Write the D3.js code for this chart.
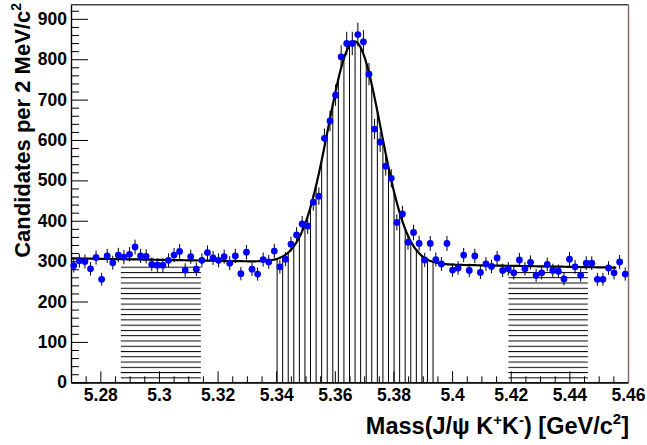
<!DOCTYPE html>
<html><head><meta charset="utf-8">
<script src="https://cdn.jsdelivr.net/npm/d3@7"></script>
<style>
body{margin:0;background:#fff}
svg{display:block}
text{font-family:"Liberation Sans",Arial,Helvetica,sans-serif;font-weight:bold;fill:#000}
</style>
</head><body>
<svg id="c" width="647" height="445"></svg>
<script>
// ---- data ----
const mass = [5.27095,5.27285,5.27475,5.27665,5.27855,5.28045,5.28235,5.28425,5.28615,5.28805,
5.28995,5.29185,5.29375,5.29565,5.29755,5.29945,5.30135,5.30325,5.30515,5.30705,
5.30895,5.31085,5.31275,5.31465,5.31655,5.31845,5.32035,5.32225,5.32415,5.32605,
5.32795,5.32985,5.33175,5.33365,5.33555,5.33745,5.33935,5.34125,5.34315,5.34505,
5.34695,5.34885,5.35075,5.35265,5.35455,5.35645,5.35835,5.36025,5.36215,5.36405,
5.36595,5.36785,5.36975,5.37165,5.37355,5.37545,5.37735,5.37925,5.38115,5.38305,
5.38495,5.38685,5.38875,5.39065,5.39255,5.39445,5.39635,5.39825,5.40015,5.40205,
5.40395,5.40585,5.40775,5.40965,5.41155,5.41345,5.41535,5.41725,5.41915,5.42105,
5.42295,5.42485,5.42675,5.42865,5.43055,5.43245,5.43435,5.43625,5.43815,5.44005,
5.44195,5.44385,5.44575,5.44765,5.44955,5.45145,5.45335,5.45525,5.45715,5.45905];
const counts = [289,301,299,281,309,255,313,296,315,310,
317,335,313,312,292,290,290,302,315,324,
278,311,280,302,321,308,302,311,295,313,
269,322,280,268,304,298,325,286,305,342,
365,392,387,446,461,604,647,711,806,839,
839,861,843,763,627,595,535,505,396,417,
347,371,344,303,344,304,293,344,278,283,
315,277,313,272,293,287,308,277,281,271,
303,281,297,265,271,292,277,275,256,305,
286,265,295,295,255,255,283,271,298,268];

const xTickValues = [5.28,5.30,5.32,5.34,5.36,5.38,5.40,5.42,5.44,5.46];
const xTickLabels = ["5.28","5.3","5.32","5.34","5.36","5.38","5.4","5.42","5.44","5.46"];
const yTickValues = [0,100,200,300,400,500,600,700,800,900];
const yTickLabels = ["0","100","200","300","400","500","600","700","800","900"];

const sidebandLeft = [5.287, 5.3143];
const sidebandRight = [5.4192, 5.4463];
const sidebandHeights = [288, 276];
const signalEdges = [5.3403,5.3422,5.3441,5.3460,5.3479,5.3498,5.3517,5.3536,5.3555,5.3574,
5.3593,5.3612,5.3631,5.3650,5.3669,5.3688,5.3707,5.3726,5.3745,5.3764,
5.3783,5.3802,5.3821,5.3840,5.3859,5.3878,5.3897,5.3916,5.3935];

// fit model parameters (linear background + Gaussian)
const fitRange = [5.27, 5.456];
const bg0 = 307, bgSlope = -124, gAmp = 549, gMean = 5.3667, gSigma = 0.0090;
function fitFn(m){ return bg0 + bgSlope*(m-5.27) + gAmp*Math.exp(-0.5*Math.pow((m-gMean)/gSigma,2)); }

// ---- drawing ----
const svg = d3.select("#c");
const L = 71, R = 628, T = 4.7, B = 382.3;
const x = d3.scaleLinear().domain([5.27,5.46]).range([L,R]);
const y = d3.scaleLinear().domain([0,935]).range([B,T]);

const defs = svg.append("defs");
const pat = defs.append("pattern").attr("id","hhatch")
  .attr("patternUnits","userSpaceOnUse")
  .attr("x",0).attr("y",266.7).attr("width",20).attr("height",5.27);
pat.append("rect").attr("x",0).attr("y",0).attr("width",20).attr("height",1).attr("fill","#000");

// sidebands
[sidebandLeft, sidebandRight].forEach((sb,i)=>{
  svg.append("rect")
    .attr("x",x(sb[0])).attr("width",x(sb[1])-x(sb[0]))
    .attr("y",y(sidebandHeights[i])).attr("height",y(0)-y(sidebandHeights[i]))
    .attr("fill","url(#hhatch)");
});

// signal region vertical lines
svg.append("g").selectAll("line").data(signalEdges).join("line")
  .attr("x1",d=>x(d)).attr("x2",d=>x(d))
  .attr("y1",y(0)).attr("y2",d=>y(fitFn(d)))
  .attr("stroke","#000").attr("stroke-width",1);

// axes
const yAxisMinor = d3.axisLeft(y).tickValues(d3.range(20,935,20).filter(v=>v%100!==0))
  .tickSize(-8).tickSizeOuter(0).tickFormat("");
const yAxis = d3.axisLeft(y).tickValues(yTickValues).tickSize(-17).tickSizeOuter(0).tickPadding(4)
  .tickFormat((d,i)=>yTickLabels[i]);
const xAxisMinor = d3.axisBottom(x).tickValues(d3.range(5.275,5.4601,0.005).filter(v=>Math.abs(Math.round(v*50)-v*50)>1e-6))
  .tickSize(-6).tickSizeOuter(0).tickFormat("");
const xAxis = d3.axisBottom(x).tickValues(xTickValues).tickSize(-11).tickSizeOuter(0).tickPadding(6)
  .tickFormat((d,i)=>xTickLabels[i]);

function styleAxis(g){
  g.select(".domain").attr("stroke","#000").attr("stroke-width",1.2);
  g.selectAll(".tick line").attr("stroke","#000").attr("stroke-width",1);
  g.selectAll(".tick text").style("font-size","17.5px").attr("fill","#000");
  g.attr("font-family",null).attr("font-size",null);
}
svg.append("g").attr("transform",`translate(${L},0)`).call(yAxisMinor).call(styleAxis);
svg.append("g").attr("transform",`translate(${L},0)`).call(yAxis).call(styleAxis);
svg.append("g").attr("transform",`translate(0,${B})`).call(xAxisMinor).call(styleAxis);
svg.append("g").attr("transform",`translate(0,${B})`).call(xAxis).call(styleAxis);

// frame top/right
svg.append("line").attr("x1",L).attr("x2",R+0.5).attr("y1",T).attr("y2",T)
  .attr("stroke","#444").attr("stroke-width",1.5);
svg.append("line").attr("x1",R+0.5).attr("x2",R+0.5).attr("y1",T).attr("y2",B)
  .attr("stroke","#8a6a6a").attr("stroke-width",1.5);

// fit curve
const curveX = d3.range(fitRange[0], fitRange[1]+1e-9, 0.0004);
svg.append("path").datum(curveX)
  .attr("d", d3.line().x(d=>x(d)).y(d=>y(fitFn(d))))
  .attr("fill","none").attr("stroke","#000").attr("stroke-width",2.2);

// data points
const pts = mass.map((m,i)=>({m, c:counts[i]}));
svg.append("g").selectAll("line").data(pts).join("line")
  .attr("x1",d=>x(d.m)).attr("x2",d=>x(d.m))
  .attr("y1",d=>y(d.c-Math.sqrt(d.c))).attr("y2",d=>y(d.c+Math.sqrt(d.c)))
  .attr("stroke","#000").attr("stroke-width",1);
svg.append("g").selectAll("circle").data(pts).join("circle")
  .attr("cx",d=>x(d.m)).attr("cy",d=>y(d.c)).attr("r",3.4)
  .attr("fill","#0000ff");

// axis titles
const xt = svg.append("text").attr("x",629).attr("y",434).attr("text-anchor","end").style("font-size","23.5px");
xt.append("tspan").text("Mass(J/ψ K");
xt.append("tspan").attr("dy",-9).style("font-size","15px").text("+");
xt.append("tspan").attr("dy",9).text("K");
xt.append("tspan").attr("dy",-9).style("font-size","15px").text("-");
xt.append("tspan").attr("dy",9).text(") [GeV/c");
xt.append("tspan").attr("dy",-10).style("font-size","15px").text("2");
xt.append("tspan").attr("dy",10).text("]");

const yt = svg.append("text").attr("transform","translate(30,3) rotate(-90)")
  .attr("text-anchor","end").style("font-size","22px");
yt.append("tspan").text("Candidates per 2 MeV/c");
yt.append("tspan").attr("dy",-9).style("font-size","14px").text("2");
</script>
</body></html>
